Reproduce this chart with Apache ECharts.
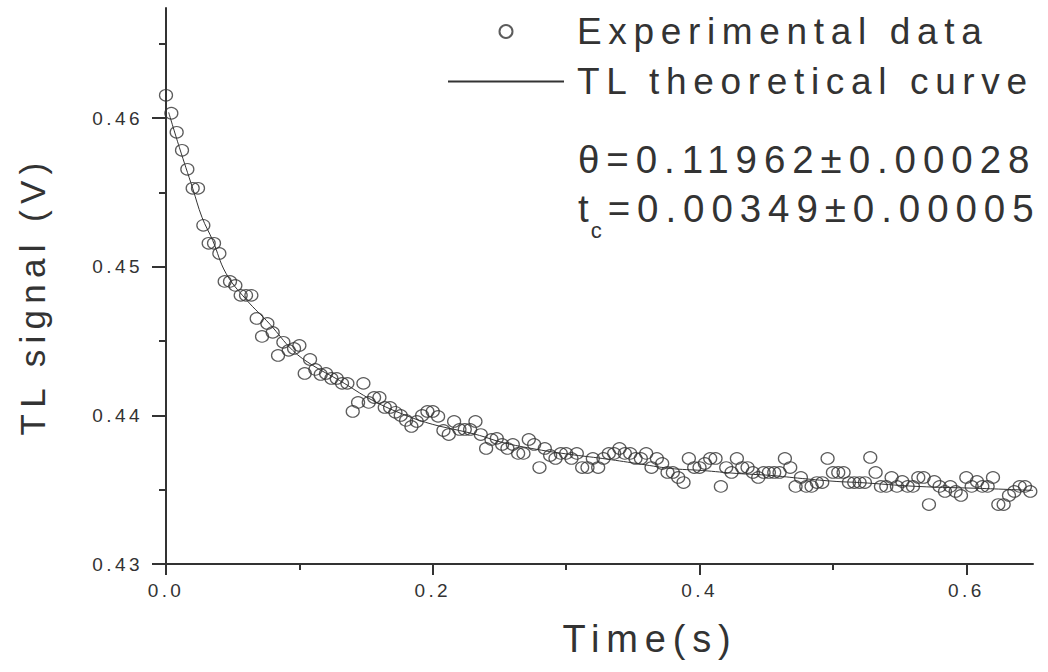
<!DOCTYPE html>
<html>
<head>
<meta charset="utf-8">
<script src="https://cdn.jsdelivr.net/npm/echarts@6/dist/echarts.min.js"></script>
<style>
  html, body { margin: 0; padding: 0; background: #fff; }
  #chart { width: 1048px; height: 672px; }
  /* the original export uses wide letter spacing everywhere */
  #chart text { letter-spacing: 0.18em; }
</style>
</head>
<body>
<div id="chart"></div>
<script>
// sample times (s)
const times = [
  0, 0.004, 0.008, 0.012, 0.016, 0.02, 0.024, 0.028, 0.032, 0.036,
  0.04, 0.044, 0.048, 0.052, 0.056, 0.06, 0.064, 0.068, 0.072, 0.076,
  0.08, 0.084, 0.088, 0.092, 0.096, 0.1, 0.104, 0.108, 0.112, 0.116,
  0.12, 0.124, 0.128, 0.132, 0.136, 0.14, 0.144, 0.148, 0.152, 0.156,
  0.16, 0.164, 0.168, 0.172, 0.176, 0.18, 0.184, 0.188, 0.192, 0.196,
  0.2, 0.204, 0.208, 0.212, 0.216, 0.22, 0.224, 0.228, 0.232, 0.236,
  0.24, 0.244, 0.248, 0.252, 0.256, 0.26, 0.264, 0.268, 0.272, 0.276,
  0.28, 0.284, 0.288, 0.292, 0.296, 0.3, 0.304, 0.308, 0.312, 0.316,
  0.32, 0.324, 0.328, 0.332, 0.336, 0.34, 0.344, 0.348, 0.352, 0.356,
  0.36, 0.364, 0.368, 0.372, 0.376, 0.38, 0.384, 0.388, 0.392, 0.396,
  0.4, 0.404, 0.408, 0.412, 0.416, 0.42, 0.424, 0.428, 0.432, 0.436,
  0.44, 0.444, 0.448, 0.452, 0.456, 0.46, 0.464, 0.468, 0.472, 0.476,
  0.48, 0.484, 0.488, 0.492, 0.496, 0.5, 0.504, 0.508, 0.512, 0.516,
  0.52, 0.524, 0.528, 0.532, 0.536, 0.54, 0.544, 0.548, 0.552, 0.556,
  0.56, 0.564, 0.568, 0.572, 0.576, 0.58, 0.584, 0.588, 0.592, 0.596,
  0.6, 0.604, 0.608, 0.612, 0.616, 0.62, 0.624, 0.628, 0.632, 0.636,
  0.64, 0.644, 0.648
];

// measured TL signal (V)
const signal = [
  0.46153, 0.46032, 0.45904, 0.45783, 0.45655, 0.45527, 0.45527, 0.45278, 0.45157, 0.45157,
  0.45089, 0.44901, 0.44901, 0.44874, 0.44807, 0.44807, 0.44807, 0.44652, 0.44531, 0.44618,
  0.44558, 0.44403, 0.44491, 0.44437, 0.44450, 0.44470, 0.44282, 0.44376, 0.44309, 0.44275,
  0.44282, 0.44248, 0.44248, 0.44215, 0.44215, 0.44026, 0.44087, 0.44215, 0.44087, 0.44120,
  0.44120, 0.44053, 0.44053, 0.44020, 0.43999, 0.43966, 0.43925, 0.43959, 0.43999, 0.44026,
  0.44026, 0.43993, 0.43898, 0.43871, 0.43959, 0.43905, 0.43905, 0.43905, 0.43959, 0.43871,
  0.43777, 0.43838, 0.43845, 0.43804, 0.43777, 0.43804, 0.43744, 0.43744, 0.43838, 0.43804,
  0.43649, 0.43777, 0.43730, 0.43710, 0.43744, 0.43744, 0.43710, 0.43744, 0.43649, 0.43649,
  0.43710, 0.43649, 0.43710, 0.43744, 0.43744, 0.43777, 0.43744, 0.43744, 0.43710, 0.43710,
  0.43744, 0.43649, 0.43710, 0.43676, 0.43616, 0.43616, 0.43582, 0.43548, 0.43710, 0.43649,
  0.43649, 0.43676, 0.43710, 0.43710, 0.43522, 0.43649, 0.43616, 0.43710, 0.43649, 0.43649,
  0.43616, 0.43582, 0.43616, 0.43616, 0.43616, 0.43616, 0.43710, 0.43649, 0.43522, 0.43582,
  0.43522, 0.43522, 0.43548, 0.43548, 0.43710, 0.43616, 0.43616, 0.43616, 0.43548, 0.43548,
  0.43548, 0.43548, 0.43717, 0.43616, 0.43522, 0.43522, 0.43582, 0.43522, 0.43555, 0.43522,
  0.43522, 0.43582, 0.43582, 0.43400, 0.43555, 0.43522, 0.43488, 0.43522, 0.43488, 0.43461,
  0.43582, 0.43522, 0.43555, 0.43522, 0.43522, 0.43582, 0.43400, 0.43400, 0.43461, 0.43488,
  0.43522, 0.43522, 0.43488
];

// theoretical curve
const fitTimes = [
  0.002, 0.01, 0.02, 0.027, 0.035, 0.045, 0.06, 0.078, 0.095, 0.11,
  0.13, 0.155, 0.18, 0.2, 0.22, 0.235, 0.252, 0.278, 0.303, 0.327,
  0.353, 0.378, 0.402, 0.428, 0.453, 0.477, 0.503, 0.52, 0.563, 0.612, 0.65
];
const fitSignal = [
  0.46038, 0.45803, 0.45527, 0.45332, 0.45177, 0.44955, 0.44780, 0.44612, 0.44437, 0.44336,
  0.44235, 0.44100, 0.43999, 0.43939, 0.43898, 0.43865, 0.43818, 0.43771, 0.43737, 0.43710,
  0.43676, 0.43643, 0.43629, 0.43609, 0.43596, 0.43575, 0.43555, 0.43548, 0.43522, 0.43508, 0.43495
];

const xMajorTicks = [0, 0.2, 0.4, 0.6];
const xMinorTicks = [0.1, 0.3, 0.5];
const yMajorTicks = [0.43, 0.44, 0.45, 0.46];
const yMinorTicks = [0.435, 0.445, 0.455, 0.465];

const thetaText = "\u03b8=0.11962\u00b10.00028";
const tcText = "=0.00349\u00b10.00005";

const FONT = '"Liberation Sans", Arial, sans-serif';
const INK = "#333";
const X_MAX = 0.65;
const Y_MIN = 0.43;
const Y_MAX = 0.4674;

const chart = echarts.init(document.getElementById("chart"), null, { renderer: "svg" });

const minorX = {
  type: "value", gridIndex: 0, position: "bottom", min: 0, max: X_MAX,
  axisLine: { show: false },
  axisTick: { show: true, length: 6, customValues: xMinorTicks, lineStyle: { color: INK, width: 2 } },
  axisLabel: { show: false },
  splitLine: { show: false },
};
const minorY = {
  type: "value", gridIndex: 0, position: "left", min: Y_MIN, max: Y_MAX,
  axisLine: { show: false },
  axisTick: { show: true, length: 7, customValues: yMinorTicks, lineStyle: { color: INK, width: 2 } },
  axisLabel: { show: false },
  splitLine: { show: false },
};

chart.setOption({
  backgroundColor: "#fff",
  animation: false,
  textStyle: { fontFamily: FONT },
  grid: { left: 166, right: 15, top: 8, bottom: 108, containLabel: false, outerBoundsMode: "none" },
  legend: {
    orient: "vertical",
    left: 442,
    top: 8,
    itemWidth: 116,
    itemHeight: 13,
    itemGap: 13,
    selectedMode: false,
    textStyle: { fontSize: 37, color: INK, fontFamily: FONT, padding: [0, 0, 0, 8] },
    data: [
      { name: "Experimental data" },
      { name: "TL theoretical curve", itemStyle: { opacity: 0 } },
    ],
  },
  xAxis: [
    {
      type: "value", min: 0, max: X_MAX, position: "bottom",
      name: "Time(s)", nameLocation: "middle", nameGap: 56,
      nameTextStyle: { fontSize: 38, color: INK, fontFamily: FONT, padding: [0, 0, 0, 101] },
      axisLine: { show: true, onZero: false, lineStyle: { color: INK, width: 2 } },
      axisTick: { show: true, length: 11, customValues: xMajorTicks, lineStyle: { color: INK, width: 2 } },
      axisLabel: {
        customValues: xMajorTicks, margin: 17, fontSize: 19, color: INK, fontFamily: FONT,
        formatter: (v) => v.toFixed(1),
      },
      splitLine: { show: false },
    },
    minorX,
  ],
  yAxis: [
    {
      type: "value", min: Y_MIN, max: Y_MAX, position: "left",
      name: "TL signal (V)", nameLocation: "middle", nameGap: 116,
      nameTextStyle: { fontSize: 35, color: INK, fontFamily: FONT, padding: [0, 20, 0, 0] },
      axisLine: { show: true, onZero: false, lineStyle: { color: INK, width: 2 } },
      axisTick: { show: true, length: 14, customValues: yMajorTicks, lineStyle: { color: INK, width: 2 } },
      axisLabel: {
        customValues: yMajorTicks, margin: 23, fontSize: 19, color: INK, fontFamily: FONT,
        formatter: (v) => v.toFixed(2),
      },
      splitLine: { show: false },
    },
    minorY,
  ],
  graphic: [
    {
      type: "text", left: 578, top: 140,
      style: { text: thetaText, fontSize: 38.5, fontFamily: FONT, fill: INK },
    },
    {
      type: "text", left: 578, top: 189,
      style: {
        text: "{m|t}{s|c}{m|" + tcText + "}",
        fill: INK,
        rich: {
          m: { fontSize: 38.5, fontFamily: FONT, color: INK, lineHeight: 40, verticalAlign: "top" },
          s: { fontSize: 22, fontFamily: FONT, color: INK, lineHeight: 22, verticalAlign: "top", padding: [30, 6, 0, 2] },
        },
      },
    },
  ],
  series: [
    {
      name: "Experimental data",
      type: "scatter",
      data: times.map((t, i) => [t, signal[i]]),
      symbol: "circle",
      symbolSize: [13, 11.5],
      itemStyle: { color: "rgba(255,255,255,0)", borderColor: INK, borderWidth: 1.2 },
      z: 2,
    },
    {
      name: "TL theoretical curve",
      type: "line",
      data: fitTimes.map((t, i) => [t, fitSignal[i]]),
      smooth: 0.4,
      symbol: "none",
      itemStyle: { color: INK },
      lineStyle: { color: INK, width: 1 },
      z: 3,
    },
  ],
});
</script>
</body>
</html>
